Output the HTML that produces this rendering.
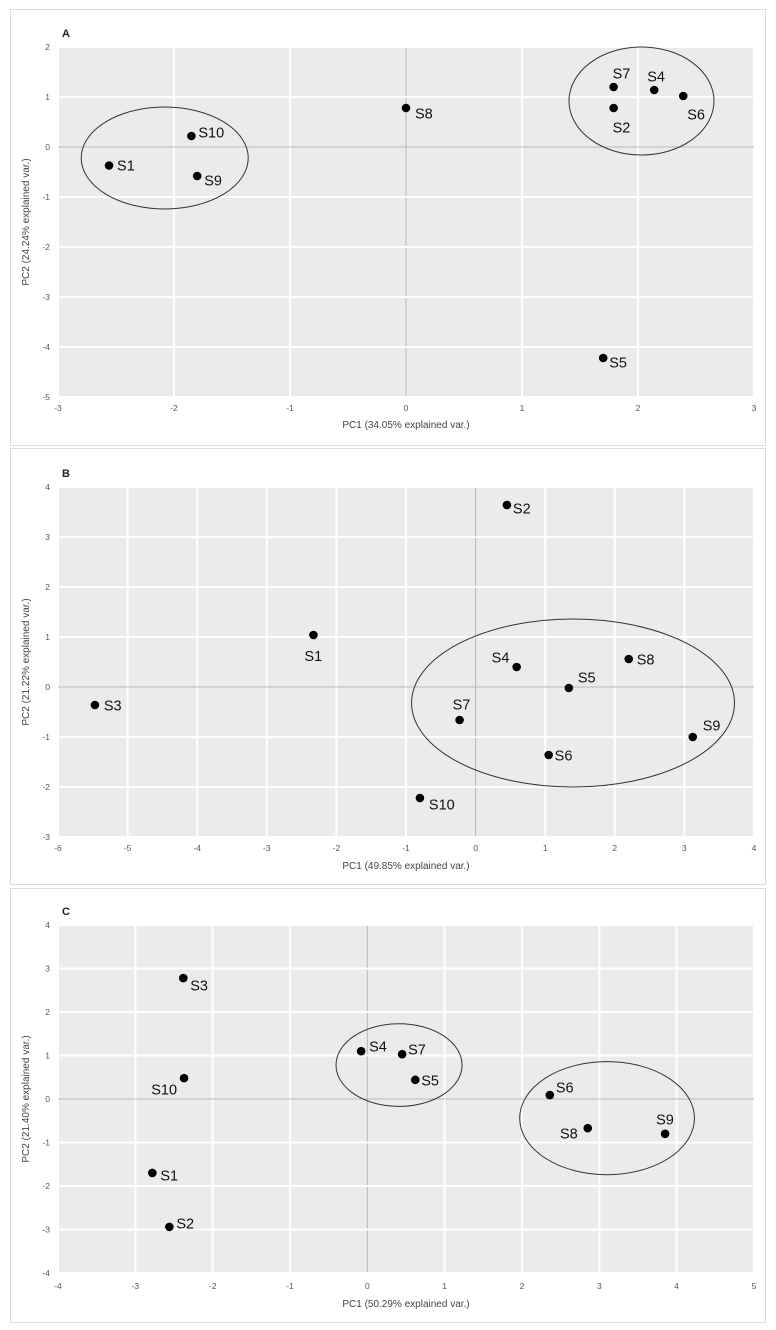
<!DOCTYPE html>
<html><head><meta charset="utf-8">
<style>
html,body{margin:0;padding:0;background:#fff;}
svg{display:block;font-family:"Liberation Sans",sans-serif;}
</style></head>
<body>
<svg id="chart" width="776" height="1330" viewBox="0 0 776 1330" xmlns="http://www.w3.org/2000/svg"></svg>
<script>
// Panel A data
const aLabels = ["S1","S10","S9","S8","S7","S2","S4","S6","S5"];
const aPC1 = [-2.56,-1.85,-1.80,0.00,1.79,1.79,2.14,2.39,1.70];
const aPC2 = [-0.37,0.22,-0.58,0.78,1.20,0.78,1.14,1.02,-4.22];
const aXTicks = [-3,-2,-1,0,1,2,3];
const aYTicks = [2,1,0,-1,-2,-3,-4,-5];
const aEllCx = [-2.08,2.03], aEllCy = [-0.22,0.92], aEllRx = [0.72,0.625], aEllRy = [1.02,1.08];
// Panel B data
const bLabels = ["S2","S1","S3","S4","S8","S5","S7","S9","S6","S10"];
const bPC1 = [0.45,-2.33,-5.47,0.59,2.20,1.34,-0.23,3.12,1.05,-0.80];
const bPC2 = [3.64,1.04,-0.36,0.40,0.56,-0.02,-0.66,-1.00,-1.36,-2.22];
const bXTicks = [-6,-5,-4,-3,-2,-1,0,1,2,3,4];
const bYTicks = [4,3,2,1,0,-1,-2,-3];
const bEllCx = [1.40], bEllCy = [-0.32], bEllRx = [2.32], bEllRy = [1.68];
// Panel C data
const cLabels = ["S3","S10","S1","S2","S4","S7","S5","S6","S8","S9"];
const cPC1 = [-2.38,-2.37,-2.78,-2.56,-0.08,0.45,0.62,2.36,2.85,3.85];
const cPC2 = [2.78,0.48,-1.70,-2.94,1.10,1.03,0.44,0.09,-0.67,-0.80];
const cXTicks = [-4,-3,-2,-1,0,1,2,3,4,5];
const cYTicks = [4,3,2,1,0,-1,-2,-3,-4];
const cEllCx = [0.41,3.10], cEllCy = [0.78,-0.44], cEllRx = [0.815,1.13], cEllRy = [0.95,1.30];

// label placement (style, not data): [dx, dy, anchor]
const aLab = [[8,5,"start"],[7,1.5,"start"],[7,9.5,"start"],[9,10.5,"start"],[-1,-8.5,"start"],[-1,24.5,"start"],[-7,-8.5,"start"],[4,23.5,"start"],[6,9.5,"start"]];
const bLab = [[6,8.5,"start"],[-9,26,"start"],[9,5.5,"start"],[-25,-4.5,"start"],[8,5.5,"start"],[9,-5.5,"start"],[-7,-10.5,"start"],[10,-6.5,"start"],[6,5.5,"start"],[9,11.5,"start"]];
const cLab = [[7,12.5,"start"],[-7,16.5,"end"],[8,7.5,"start"],[7,1.5,"start"],[8,0.5,"start"],[6,0.5,"start"],[6,5.5,"start"],[6,-2.5,"start"],[-10,10.5,"end"],[-9,-9.5,"start"]];

const NS="http://www.w3.org/2000/svg";
const svg=document.getElementById("chart");
function mk(tag,parent){const e=document.createElementNS(NS,tag);parent.appendChild(e);return e;}

function panel(cfg){
  const g=mk("g",svg);
  
  
  const L=58,R=754,T=cfg.top,B=cfg.bottom;
  const x0=cfg.xt[0],x1=cfg.xt[cfg.xt.length-1];
  const y1=cfg.yt[0],y0=cfg.yt[cfg.yt.length-1];
  const sx=v=>L+(v-x0)/(x1-x0)*(R-L);
  const sy=v=>B-(v-y0)/(y1-y0)*(B-T);
  const fr=mk("rect",g);
  
  
  fr.setAttribute("x",10.5);fr.setAttribute("y",cfg.ftop+0.5);fr.setAttribute("width",755);fr.setAttribute("height",cfg.fbot-cfg.ftop);
  fr.setAttribute("fill","#fff");fr.setAttribute("stroke","#dcdcdc");
  const bg=mk("rect",g);
  
  
  bg.setAttribute("x",L);bg.setAttribute("y",T);bg.setAttribute("width",R-L);bg.setAttribute("height",B-T);bg.setAttribute("fill","#ebebeb");
  cfg.xt.forEach(v=>{
    const l=mk("line",g);
    
    
    l.setAttribute("x1",sx(v));l.setAttribute("x2",sx(v));l.setAttribute("y1",T);l.setAttribute("y2",B);
    l.setAttribute("stroke",v===0?"#b8b8b8":"#fff");l.setAttribute("stroke-width",v===0?1:2);
    const t=mk("text",g);
    
    
    t.setAttribute("x",sx(v));t.setAttribute("y",cfg.xtl);t.setAttribute("text-anchor","middle");
    t.setAttribute("font-size","8.5");t.setAttribute("fill","#555");t.textContent=v;
  });
  cfg.yt.forEach(v=>{
    const l=mk("line",g);
    
    
    l.setAttribute("x1",L);l.setAttribute("x2",R);l.setAttribute("y1",sy(v));l.setAttribute("y2",sy(v));
    l.setAttribute("stroke",v===0?"#b8b8b8":"#fff");l.setAttribute("stroke-width",v===0?1:2);
    const t=mk("text",g);
    
    
    t.setAttribute("x",50);t.setAttribute("y",sy(v)+3);t.setAttribute("text-anchor","end");
    t.setAttribute("font-size","8.5");t.setAttribute("fill","#555");t.textContent=v;
  });
  const let_=mk("text",g);
  
  
  let_.setAttribute("x",62);let_.setAttribute("y",cfg.ly);let_.setAttribute("font-size","11");let_.setAttribute("font-weight","bold");let_.setAttribute("fill","#222");let_.textContent=cfg.letter;
  const xt=mk("text",g);
  
  
  xt.setAttribute("x",(L+R)/2);xt.setAttribute("y",cfg.xtitle);xt.setAttribute("text-anchor","middle");xt.setAttribute("font-size","10");xt.setAttribute("fill","#444");xt.textContent=cfg.xlab;
  const yt=mk("text",g);
  
  
  const cy=(T+B)/2;
  yt.setAttribute("transform","translate(29,"+cy+") rotate(-90)");yt.setAttribute("text-anchor","middle");yt.setAttribute("font-size","10");yt.setAttribute("fill","#444");yt.textContent=cfg.ylab;
  cfg.ecx.forEach((c,i)=>{
    const e=mk("ellipse",g);
    
    
    e.setAttribute("cx",sx(c));e.setAttribute("cy",sy(cfg.ecy[i]));
    e.setAttribute("rx",cfg.erx[i]*(R-L)/(x1-x0));e.setAttribute("ry",cfg.ery[i]*(B-T)/(y1-y0));
    e.setAttribute("fill","none");e.setAttribute("stroke","#333");e.setAttribute("stroke-width","1");
  });
  cfg.labels.forEach((name,i)=>{
    const px=sx(cfg.xs[i]),py=sy(cfg.ys[i]);
    const c=mk("circle",g);
    
    
    c.setAttribute("cx",px);c.setAttribute("cy",py);c.setAttribute("r",4.3);c.setAttribute("fill","#000");
    const o=cfg.lab[i];
    const t=mk("text",g);
    
    
    t.setAttribute("x",px+o[0]);t.setAttribute("y",py+o[1]);t.setAttribute("text-anchor",o[2]);
    t.setAttribute("font-size","14.5");t.setAttribute("fill","#111");t.textContent=name;
  });
}
panel({letter:"A",top:47,bottom:397,ftop:9,fbot:445,xt:aXTicks,yt:aYTicks,xtl:411,xtitle:428,ly:37,
  xlab:"PC1 (34.05% explained var.)",ylab:"PC2 (24.24% explained var.)",
  labels:aLabels,xs:aPC1,ys:aPC2,lab:aLab,ecx:aEllCx,ecy:aEllCy,erx:aEllRx,ery:aEllRy});
panel({letter:"B",top:487,bottom:837,ftop:448,fbot:884,xt:bXTicks,yt:bYTicks,xtl:851,xtitle:869,ly:477,
  xlab:"PC1 (49.85% explained var.)",ylab:"PC2 (21.22% explained var.)",
  labels:bLabels,xs:bPC1,ys:bPC2,lab:bLab,ecx:bEllCx,ecy:bEllCy,erx:bEllRx,ery:bEllRy});
panel({letter:"C",top:925,bottom:1273,ftop:888,fbot:1322,xt:cXTicks,yt:cYTicks,xtl:1289,xtitle:1307,ly:915,
  xlab:"PC1 (50.29% explained var.)",ylab:"PC2 (21.40% explained var.)",
  labels:cLabels,xs:cPC1,ys:cPC2,lab:cLab,ecx:cEllCx,ecy:cEllCy,erx:cEllRx,ery:cEllRy});
</script>
</body></html>
